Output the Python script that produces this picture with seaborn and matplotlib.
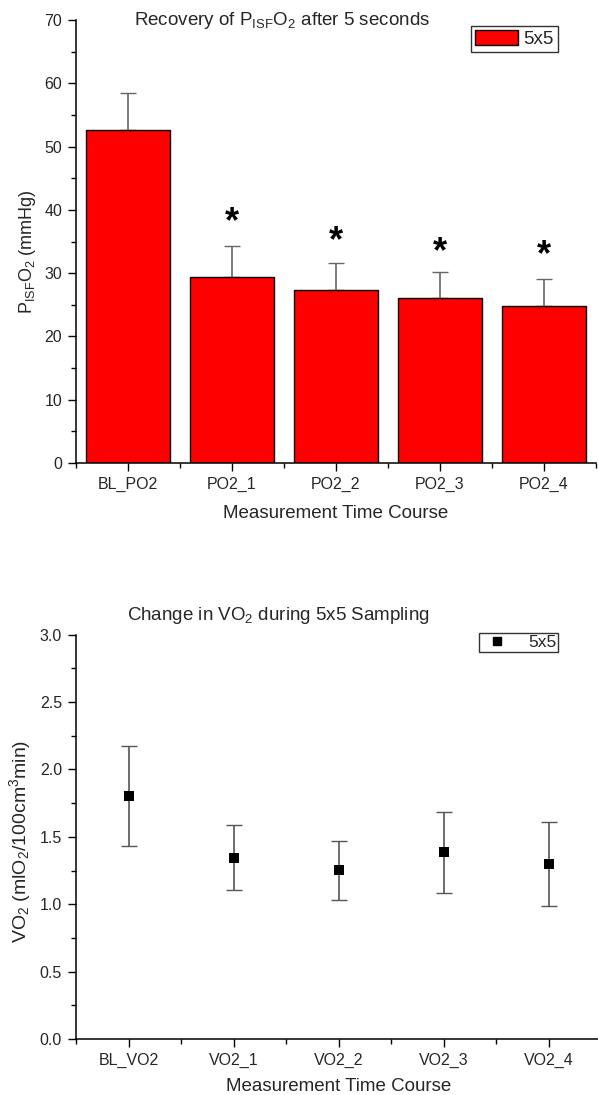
import matplotlib
matplotlib.use("Agg")
import matplotlib.pyplot as plt
import seaborn as sns
import numpy as np
import pandas as pd
from matplotlib.ticker import MultipleLocator, FixedLocator
from matplotlib.patches import Patch
from matplotlib.lines import Line2D

# ---------------- data ----------------
po2_categories = ["BL_PO2", "PO2_1", "PO2_2", "PO2_3", "PO2_4"]
po2_means = [52.6, 29.4, 27.4, 26.0, 24.8]
po2_errors = [5.8, 4.9, 4.2, 4.2, 4.3]
po2_star_y = [None, 38.0, 35.0, 33.3, 32.7]

vo2_categories = ["BL_VO2", "VO2_1", "VO2_2", "VO2_3", "VO2_4"]
vo2_means = [1.805, 1.345, 1.252, 1.387, 1.298]
vo2_errors = [0.37, 0.24, 0.22, 0.30, 0.31]

legend_label = "5x5"

# ---------------- style ----------------
sns.set_style("ticks")
plt.rcParams["font.family"] = ["Liberation Sans", "DejaVu Sans"]
plt.rcParams["mathtext.fontset"] = "custom"
plt.rcParams["mathtext.rm"] = "Liberation Sans"
plt.rcParams["mathtext.it"] = "Liberation Sans:italic"
plt.rcParams["mathtext.bf"] = "Liberation Sans:bold"
plt.rcParams["mathtext.default"] = "regular"

W, H = 598, 1095
fig = plt.figure(figsize=(W / 100, H / 100), dpi=100)

def fx(px):
    return px / W

def fy(py):
    return 1 - py / H

ax1 = fig.add_axes([fx(76), fy(463), fx(596) - fx(76), fy(20) - fy(463)])
ax2 = fig.add_axes([fx(76), fy(1039), fx(601) - fx(76), fy(634.7) - fy(1039)])

tick_fs = 11.5
label_fs = 13.5

def style_axis(ax):
    for s in ["top", "right"]:
        ax.spines[s].set_visible(False)
    for s in ["left", "bottom"]:
        ax.spines[s].set_linewidth(1.1)
        ax.spines[s].set_color("black")
    ax.tick_params(which="major", direction="out", length=6, width=1.0,
                   labelsize=tick_fs, color="black", pad=4)
    ax.tick_params(which="minor", direction="out", length=3.5, width=1.0, color="black")
    ax.xaxis.set_minor_locator(FixedLocator(np.arange(-0.5, 5.0, 1.0)))

# ---------------- top: bar chart ----------------
df1 = pd.DataFrame({"cat": po2_categories, "val": po2_means})
sns.barplot(data=df1, x="cat", y="val", color="#FF0000", saturation=1,
            edgecolor="black", linewidth=1.0, width=0.8, ax=ax1, zorder=2)
ax1.errorbar(np.arange(len(po2_categories)), po2_means,
             yerr=[np.zeros(len(po2_errors)), po2_errors],
             fmt="none", ecolor="#666666", elinewidth=1.2, capsize=5.5,
             capthick=1.0, zorder=1)
for i, sy in enumerate(po2_star_y):
    if sy is not None:
        ax1.text(i, sy, "*", ha="center", va="center", fontsize=26,
                 fontweight="bold", color="black")
ax1.set_xlim(-0.5, 4.5)
ax1.set_ylim(0, 70)
ax1.yaxis.set_major_locator(MultipleLocator(10))
ax1.yaxis.set_minor_locator(MultipleLocator(5))
style_axis(ax1)
ax1.set_xlabel("Measurement Time Course", fontsize=label_fs, labelpad=9)
ax1.set_ylabel(r"P$_{\rm ISF}$O$_2$ (mmHg)", fontsize=13)
ax1.yaxis.set_label_coords(-0.074, 0.478)
fig.text(fx(282), fy(25), r"Recovery of P$_{\rm ISF}$O$_2$ after 5 seconds",
         ha="center", va="baseline", fontsize=13.5)
leg1 = ax1.legend(handles=[Patch(facecolor="#FF0000", edgecolor="black",
                                 linewidth=1.0, label=legend_label)],
                  loc="upper right", bbox_to_anchor=(fx(557.7), fy(26)),
                  bbox_transform=fig.transFigure, borderaxespad=0,
                  fontsize=13.5, frameon=True, fancybox=False,
                  handlelength=2.3, handleheight=0.9, handletextpad=0.3,
                  borderpad=0.2)
leg1.get_frame().set_edgecolor("black")
leg1.get_frame().set_linewidth(1.0)

# ---------------- bottom: scatter with error bars ----------------
df2 = pd.DataFrame({"cat": vo2_categories, "val": vo2_means})
ax2.errorbar(np.arange(len(vo2_categories)), vo2_means, yerr=vo2_errors,
             fmt="none", ecolor="#555555", elinewidth=1.2, capsize=5.5,
             capthick=1.0, zorder=1)
sns.scatterplot(data=df2, x="cat", y="val", marker="s", color="black",
                s=45, edgecolor="black", linewidth=0, ax=ax2, zorder=3)
ax2.set_xlim(-0.5, 4.5)
ax2.set_ylim(0, 3.0)
ax2.yaxis.set_major_locator(MultipleLocator(0.5))
ax2.yaxis.set_minor_locator(MultipleLocator(0.25))
ax2.yaxis.set_major_formatter(matplotlib.ticker.FormatStrFormatter("%.1f"))
style_axis(ax2)
ax2.set_xlabel("Measurement Time Course", fontsize=label_fs, labelpad=7)
ax2.set_ylabel(r"VO$_2$ (mlO$_2$/100cm$^3$min)", fontsize=14)
ax2.yaxis.set_label_coords(-0.082, 0.488)
fig.text(fx(278), fy(620), r"Change in VO$_2$ during 5x5 Sampling",
         ha="center", va="baseline", fontsize=13.5)
leg2 = ax2.legend(handles=[Line2D([], [], marker="s", color="black",
                                  linestyle="none", markersize=6,
                                  label=legend_label)],
                  loc="upper right", bbox_to_anchor=(fx(558), fy(633)),
                  bbox_transform=fig.transFigure, borderaxespad=0,
                  fontsize=12.5, frameon=True, fancybox=False,
                  handlelength=1.8, handletextpad=0.9, borderpad=0.1)
leg2.get_frame().set_edgecolor("black")
leg2.get_frame().set_linewidth(1.0)

fig.savefig("out.png", dpi=100)
